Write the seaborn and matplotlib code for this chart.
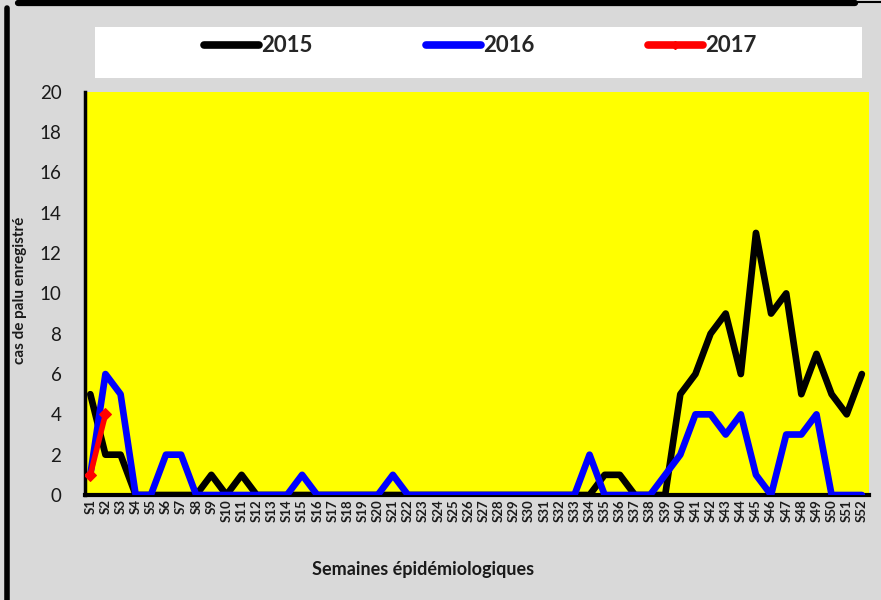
import matplotlib
matplotlib.use("Agg")
import matplotlib.pyplot as plt
from matplotlib.lines import Line2D
from matplotlib.patches import Rectangle
import numpy as np
import pandas as pd
import seaborn as sns

# Epidemiological weeks
weeks = [f"S{i}" for i in range(1, 53)]

# Weekly malaria cases per year
cases_2015 = [5, 2, 2, 0, 0, 0, 0, 0, 1, 0, 1, 0, 0, 0, 0, 0, 0, 0, 0, 0,
              0, 0, 0, 0, 0, 0, 0, 0, 0, 0, 0, 0, 0, 0, 1, 1, 0, 0, 0, 5,
              6, 8, 9, 6, 13, 9, 10, 5, 7, 5, 4, 6]
cases_2016 = [1, 6, 5, 0, 0, 2, 2, 0, 0, 0, 0, 0, 0, 0, 1, 0, 0, 0, 0, 0,
              1, 0, 0, 0, 0, 0, 0, 0, 0, 0, 0, 0, 0, 2, 0, 0, 0, 0, 1, 2,
              4, 4, 3, 4, 1, 0, 3, 3, 4, 0, 0, 0]
cases_2017 = [1, 4]

years = ["2015", "2016", "2017"]
colors = ["#000000", "#0000ff", "#ff0000"]

sns.set_theme(style="white")
plt.rcParams["font.family"] = ["Lato", "DejaVu Sans"]

bg = "#d9d9d9"
fig = plt.figure(figsize=(8.81, 6.0), dpi=100, facecolor=bg)
ax = fig.add_axes([0.0965, 0.175, 0.8895, 0.672])
ax.set_facecolor("#ffff00")

frames = []
for yr, vals in zip(years, [cases_2015, cases_2016, cases_2017]):
    frames.append(pd.DataFrame({"week": np.arange(len(vals)), "cas": vals, "annee": yr}))
df = pd.concat(frames, ignore_index=True)

lw = {"2015": 4.8, "2016": 4.8, "2017": 4.0}
for yr, col in zip(years, colors):
    sub = df[df["annee"] == yr]
    sns.lineplot(data=sub, x="week", y="cas", ax=ax, color=col, lw=lw[yr],
                 sort=False, legend=False,
                 marker="D" if yr == "2017" else None,
                 markersize=6 if yr == "2017" else 0,
                 markeredgecolor=col, zorder=3 + years.index(yr))
for ln in ax.get_lines():
    ln.set_solid_joinstyle("round")
    ln.set_solid_capstyle("round")

ax.set_xlim(-0.35, 51.45)
ax.set_ylim(0, 20)
ax.set_yticks(np.arange(0, 21, 2))
ax.set_yticklabels([str(v) for v in range(0, 21, 2)], fontsize=13.5, color="#1a1a1a")
ax.set_xticks(np.arange(len(weeks)))
ax.set_xticklabels(weeks, rotation=90, fontsize=9.5, fontweight="bold", color="#1a1a1a")
ax.tick_params(axis="y", length=0, pad=17)
ax.tick_params(axis="x", length=0, pad=3)
ax.set_xlabel("")
ax.set_ylabel("")

for side in ["top", "right"]:
    ax.spines[side].set_visible(False)
ax.spines["left"].set_color("black")
ax.spines["left"].set_linewidth(2.5)
ax.spines["bottom"].set_color("black")
ax.spines["bottom"].set_linewidth(3.0)

# Axis titles
fig.text(20 / 881, 1 - 290 / 600, "cas de palu enregistré", rotation=90,
         ha="center", va="center", fontsize=11, fontweight="bold", color="#1a1a1a")
fig.text(423 / 881, 1 - 569 / 600, "Semaines épidémiologiques",
         ha="center", va="center", fontsize=13, fontweight="bold", color="#1a1a1a")

# Legend panel
fig.add_artist(Rectangle((95 / 881, 1 - 78 / 600), (862 - 95) / 881, 51 / 600,
                         transform=fig.transFigure, facecolor="white",
                         edgecolor="none", zorder=1))
handles = [Line2D([0], [0], color=colors[0], lw=5.5, solid_capstyle="round"),
           Line2D([0], [0], color=colors[1], lw=5.5, solid_capstyle="round"),
           Line2D([0], [0], color=colors[2], lw=5.5, solid_capstyle="round",
                  marker="D", markersize=4)]
leg = fig.legend(handles, years, loc="center", bbox_to_anchor=(480 / 881, 1 - 46 / 600),
                 ncol=3, frameon=False, handlelength=2.5, handletextpad=0.08,
                 columnspacing=5.1, prop={"family": ["Lato", "DejaVu Sans"],
                                          "weight": "bold", "size": 16})
leg.set_zorder(2)

# Outer chart border
fig.add_artist(Line2D([18 / 881, 855 / 881], [1 - 3 / 600, 1 - 3 / 600],
                      transform=fig.transFigure, color="black", lw=4.5))
fig.add_artist(Line2D([855 / 881, 1.0], [1 - 1.5 / 600, 1 - 1.5 / 600],
                      transform=fig.transFigure, color="black", lw=1.5))
fig.add_artist(Line2D([6.5 / 881, 6.5 / 881], [0, 1 - 8 / 600],
                      transform=fig.transFigure, color="black", lw=4))

fig.savefig("out.png", dpi=100, facecolor=bg)
